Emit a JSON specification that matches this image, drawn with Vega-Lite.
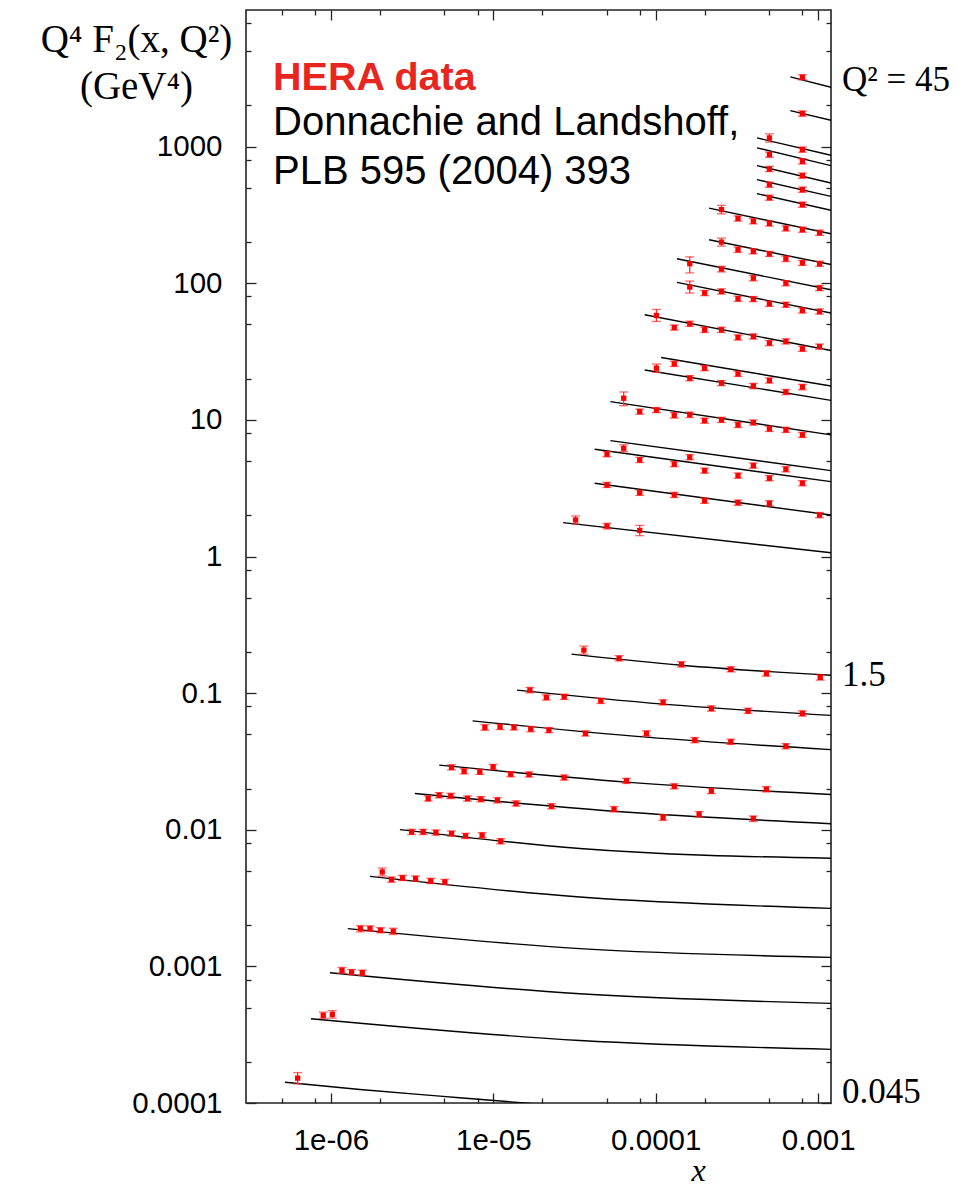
{
  "$schema": "https://vega.github.io/schema/vega-lite/v6.json",
  "width": 585,
  "height": 1093,
  "autosize": {"type": "none"},
  "padding": {"left": 246, "top": 10, "right": 135, "bottom": 84},
  "background": "white",
  "config": {
    "view": {"stroke": "#222222", "strokeWidth": 1.6},
    "axis": {"domain": false, "grid": false, "tickColor": "#222222", "tickWidth": 1.3, "labelFont": "Liberation Sans", "labelFontSize": 29.5, "labelColor": "black", "labelFlush": false, "labelOverlap": false}
  },
  "resolve": {"axis": {"x": "independent", "y": "independent"}},
  "datasets": {
    "curves": [
      {"c": "C1", "x": 0.000674, "y": 3241}, {"c": "C1", "x": 0.0012, "y": 2719},
      {"c": "C2", "x": 0.000674, "y": 1835}, {"c": "C2", "x": 0.0012, "y": 1558},
      {"c": "C3", "x": 0.00042, "y": 1158}, {"c": "C3", "x": 0.0012, "y": 864},
      {"c": "C4", "x": 0.00042, "y": 979}, {"c": "C4", "x": 0.0012, "y": 726},
      {"c": "C5", "x": 0.00042, "y": 726}, {"c": "C5", "x": 0.0012, "y": 542},
      {"c": "C6", "x": 0.00042, "y": 573}, {"c": "C6", "x": 0.0012, "y": 432},
      {"c": "C7", "x": 0.00042, "y": 453}, {"c": "C7", "x": 0.0012, "y": 342},
      {"c": "C8", "x": 0.000213, "y": 355}, {"c": "C8", "x": 0.0012, "y": 230},
      {"c": "C9", "x": 0.000213, "y": 208}, {"c": "C9", "x": 0.0012, "y": 137},
      {"c": "C10", "x": 0.000135, "y": 151}, {"c": "C10", "x": 0.0012, "y": 89.7},
      {"c": "C11", "x": 0.000135, "y": 101.4}, {"c": "C11", "x": 0.0012, "y": 60.5},
      {"c": "C12", "x": 0.0000855, "y": 58.8}, {"c": "C12", "x": 0.0012, "y": 32.2},
      {"c": "C13", "x": 0.000108, "y": 28.6}, {"c": "C13", "x": 0.0012, "y": 17.7},
      {"c": "C14", "x": 0.0000855, "y": 23.2}, {"c": "C14", "x": 0.0012, "y": 13.9},
      {"c": "C15", "x": 0.0000526, "y": 13.6}, {"c": "C15", "x": 0.0012, "y": 7.76},
      {"c": "C16", "x": 0.0000526, "y": 7.05}, {"c": "C16", "x": 0.0012, "y": 4.25},
      {"c": "C17", "x": 0.0000421, "y": 6.10}, {"c": "C17", "x": 0.0012, "y": 3.53},
      {"c": "C18", "x": 0.0000421, "y": 3.44}, {"c": "C18", "x": 0.0012, "y": 2.01},
      {"c": "C19", "x": 0.0000269, "y": 1.77}, {"c": "C19", "x": 0.0012, "y": 1.066},
      {"c": "L1", "x": 0.0000303, "y": 0.193}, {"c": "L1", "x": 0.000144, "y": 0.160}, {"c": "L1", "x": 0.0012, "y": 0.135},
      {"c": "L2", "x": 0.000014, "y": 0.1052}, {"c": "L2", "x": 0.000111, "y": 0.0831}, {"c": "L2", "x": 0.0012, "y": 0.0687},
      {"c": "L3", "x": 0.00000745, "y": 0.0627}, {"c": "L3", "x": 0.0000877, "y": 0.0476}, {"c": "L3", "x": 0.0012, "y": 0.0386},
      {"c": "L4", "x": 0.00000464, "y": 0.0297}, {"c": "L4", "x": 0.000066, "y": 0.0223}, {"c": "L4", "x": 0.0012, "y": 0.0181},
      {"c": "L5", "x": 0.00000329, "y": 0.0184}, {"c": "L5", "x": 0.0000554, "y": 0.01366}, {"c": "L5", "x": 0.0012, "y": 0.01107},
      {"c": "L6", "x": 0.00000266, "y": 0.01003}, {"c": "L6", "x": 0.0000341, "y": 0.00729}, {"c": "L6", "x": 0.0012, "y": 0.00618},
      {"c": "L7", "x": 0.00000174, "y": 0.00456}, {"c": "L7", "x": 0.0000341, "y": 0.00322}, {"c": "L7", "x": 0.0012, "y": 0.00266},
      {"c": "L8", "x": 0.00000127, "y": 0.00189}, {"c": "L8", "x": 0.0000341, "y": 0.001348}, {"c": "L8", "x": 0.0012, "y": 0.001164},
      {"c": "L9", "x": 0.000000986, "y": 0.000899}, {"c": "L9", "x": 0.0000341, "y": 0.000631}, {"c": "L9", "x": 0.0012, "y": 0.000536},
      {"c": "L10", "x": 0.000000753, "y": 0.000414}, {"c": "L10", "x": 0.0000341, "y": 0.000287}, {"c": "L10", "x": 0.0012, "y": 0.000247},
      {"c": "L11", "x": 0.000000521, "y": 0.000142}, {"c": "L11", "x": 0.00000151, "y": 0.0001256}, {"c": "L11", "x": 0.00000469, "y": 0.0001122}, {"c": "L11", "x": 0.0000161, "y": 0.0000997}, {"c": "L11", "x": 0.0012, "y": 0.000077}
    ],
    "pts": [
      {"c": "C1", "x": 0.0008, "y": 3219, "lo": 3080, "hi": 3360},
      {"c": "C2", "x": 0.0008, "y": 1745, "lo": 1670, "hi": 1825},
      {"c": "C3", "x": 0.000501, "y": 1158, "lo": 1080, "hi": 1240},
      {"c": "C3", "x": 0.0008, "y": 951, "lo": 910, "hi": 994},
      {"c": "C4", "x": 0.000501, "y": 874, "lo": 836, "hi": 913},
      {"c": "C4", "x": 0.0008, "y": 780, "lo": 746, "hi": 815},
      {"c": "C5", "x": 0.000501, "y": 686, "lo": 656, "hi": 717},
      {"c": "C5", "x": 0.0008, "y": 613, "lo": 587, "hi": 641},
      {"c": "C6", "x": 0.000501, "y": 527, "lo": 504, "hi": 551},
      {"c": "C6", "x": 0.0008, "y": 484, "lo": 463, "hi": 506},
      {"c": "C7", "x": 0.000501, "y": 423, "lo": 405, "hi": 442},
      {"c": "C7", "x": 0.0008, "y": 376, "lo": 360, "hi": 393},
      {"c": "C8", "x": 0.000254, "y": 346, "lo": 322, "hi": 372},
      {"c": "C8", "x": 0.000321, "y": 298, "lo": 285, "hi": 311},
      {"c": "C8", "x": 0.000399, "y": 284, "lo": 272, "hi": 297},
      {"c": "C8", "x": 0.000501, "y": 274, "lo": 262, "hi": 286},
      {"c": "C8", "x": 0.000633, "y": 252, "lo": 241, "hi": 263},
      {"c": "C8", "x": 0.0008, "y": 247, "lo": 236, "hi": 258},
      {"c": "C8", "x": 0.00102, "y": 234, "lo": 224, "hi": 245},
      {"c": "C9", "x": 0.000254, "y": 200, "lo": 187, "hi": 214},
      {"c": "C9", "x": 0.000321, "y": 176, "lo": 168, "hi": 184},
      {"c": "C9", "x": 0.000399, "y": 171, "lo": 164, "hi": 179},
      {"c": "C9", "x": 0.000501, "y": 164, "lo": 157, "hi": 171},
      {"c": "C9", "x": 0.000633, "y": 151, "lo": 144, "hi": 158},
      {"c": "C9", "x": 0.0008, "y": 141, "lo": 135, "hi": 147},
      {"c": "C9", "x": 0.00102, "y": 139, "lo": 133, "hi": 145},
      {"c": "C10", "x": 0.000162, "y": 139, "lo": 119, "hi": 156},
      {"c": "C10", "x": 0.000254, "y": 127, "lo": 121, "hi": 133},
      {"c": "C10", "x": 0.000399, "y": 109, "lo": 104, "hi": 114},
      {"c": "C10", "x": 0.000633, "y": 100, "lo": 95.7, "hi": 104.5},
      {"c": "C10", "x": 0.00102, "y": 92.2, "lo": 88.2, "hi": 96.3},
      {"c": "C11", "x": 0.000162, "y": 93.8, "lo": 84.8, "hi": 103.7},
      {"c": "C11", "x": 0.0002, "y": 84.8, "lo": 81.1, "hi": 88.6},
      {"c": "C11", "x": 0.000254, "y": 87.1, "lo": 83.3, "hi": 91.0},
      {"c": "C11", "x": 0.000321, "y": 77.0, "lo": 73.7, "hi": 80.5},
      {"c": "C11", "x": 0.000399, "y": 76.6, "lo": 73.3, "hi": 80.0},
      {"c": "C11", "x": 0.000501, "y": 70.8, "lo": 67.7, "hi": 74.0},
      {"c": "C11", "x": 0.000633, "y": 69.6, "lo": 66.6, "hi": 72.7},
      {"c": "C11", "x": 0.0008, "y": 63.2, "lo": 60.5, "hi": 66.0},
      {"c": "C11", "x": 0.00102, "y": 62.1, "lo": 59.4, "hi": 64.9},
      {"c": "C12", "x": 0.000101, "y": 58.1, "lo": 52.5, "hi": 64.3},
      {"c": "C12", "x": 0.00013, "y": 47.4, "lo": 45.4, "hi": 49.5},
      {"c": "C12", "x": 0.000162, "y": 50.5, "lo": 48.3, "hi": 52.8},
      {"c": "C12", "x": 0.0002, "y": 45.6, "lo": 43.6, "hi": 47.7},
      {"c": "C12", "x": 0.000254, "y": 45.6, "lo": 43.6, "hi": 47.7},
      {"c": "C12", "x": 0.000321, "y": 40.1, "lo": 38.4, "hi": 41.9},
      {"c": "C12", "x": 0.000399, "y": 40.8, "lo": 39.0, "hi": 42.6},
      {"c": "C12", "x": 0.000501, "y": 36.5, "lo": 34.9, "hi": 38.1},
      {"c": "C12", "x": 0.000633, "y": 37.5, "lo": 35.9, "hi": 39.2},
      {"c": "C12", "x": 0.0008, "y": 33.1, "lo": 31.7, "hi": 34.6},
      {"c": "C12", "x": 0.00102, "y": 34.4, "lo": 32.9, "hi": 35.9},
      {"c": "C13", "x": 0.00013, "y": 25.7, "lo": 24.6, "hi": 26.9},
      {"c": "C13", "x": 0.0002, "y": 23.9, "lo": 22.9, "hi": 25.0},
      {"c": "C13", "x": 0.000321, "y": 21.7, "lo": 20.8, "hi": 22.7},
      {"c": "C13", "x": 0.000501, "y": 19.4, "lo": 18.6, "hi": 20.3},
      {"c": "C13", "x": 0.0008, "y": 17.4, "lo": 16.6, "hi": 18.2},
      {"c": "C14", "x": 0.000101, "y": 23.9, "lo": 22.3, "hi": 25.6},
      {"c": "C14", "x": 0.000162, "y": 20.2, "lo": 19.3, "hi": 21.1},
      {"c": "C14", "x": 0.000254, "y": 18.6, "lo": 17.8, "hi": 19.4},
      {"c": "C14", "x": 0.000399, "y": 17.7, "lo": 16.9, "hi": 18.5},
      {"c": "C14", "x": 0.000633, "y": 16.0, "lo": 15.3, "hi": 16.7},
      {"c": "C15", "x": 0.0000635, "y": 14.4, "lo": 12.7, "hi": 16.0},
      {"c": "C15", "x": 0.0000797, "y": 11.5, "lo": 11.0, "hi": 12.0},
      {"c": "C15", "x": 0.000101, "y": 11.8, "lo": 11.3, "hi": 12.3},
      {"c": "C15", "x": 0.00013, "y": 10.8, "lo": 10.3, "hi": 11.3},
      {"c": "C15", "x": 0.000162, "y": 10.9, "lo": 10.4, "hi": 11.4},
      {"c": "C15", "x": 0.0002, "y": 9.88, "lo": 9.45, "hi": 10.3},
      {"c": "C15", "x": 0.000254, "y": 10.0, "lo": 9.57, "hi": 10.45},
      {"c": "C15", "x": 0.000321, "y": 9.19, "lo": 8.79, "hi": 9.60},
      {"c": "C15", "x": 0.000399, "y": 9.56, "lo": 9.15, "hi": 9.99},
      {"c": "C15", "x": 0.000501, "y": 8.59, "lo": 8.22, "hi": 8.98},
      {"c": "C15", "x": 0.000633, "y": 8.45, "lo": 8.09, "hi": 8.83},
      {"c": "C15", "x": 0.0008, "y": 7.76, "lo": 7.43, "hi": 8.11},
      {"c": "C16", "x": 0.0000635, "y": 6.20, "lo": 5.85, "hi": 6.57},
      {"c": "C16", "x": 0.000162, "y": 5.33, "lo": 5.10, "hi": 5.57},
      {"c": "C16", "x": 0.000399, "y": 4.63, "lo": 4.43, "hi": 4.84},
      {"c": "C16", "x": 0.000633, "y": 4.35, "lo": 4.16, "hi": 4.55},
      {"c": "C17", "x": 0.0000501, "y": 5.61, "lo": 5.37, "hi": 5.86},
      {"c": "C17", "x": 0.0000797, "y": 5.09, "lo": 4.87, "hi": 5.32},
      {"c": "C17", "x": 0.00013, "y": 4.74, "lo": 4.54, "hi": 4.95},
      {"c": "C17", "x": 0.0002, "y": 4.25, "lo": 4.07, "hi": 4.44},
      {"c": "C17", "x": 0.000321, "y": 3.91, "lo": 3.74, "hi": 4.09},
      {"c": "C17", "x": 0.000501, "y": 3.74, "lo": 3.58, "hi": 3.91},
      {"c": "C17", "x": 0.0008, "y": 3.44, "lo": 3.29, "hi": 3.59},
      {"c": "C18", "x": 0.0000501, "y": 3.34, "lo": 3.20, "hi": 3.49},
      {"c": "C18", "x": 0.0000797, "y": 2.93, "lo": 2.80, "hi": 3.06},
      {"c": "C18", "x": 0.00013, "y": 2.82, "lo": 2.70, "hi": 2.95},
      {"c": "C18", "x": 0.0002, "y": 2.56, "lo": 2.45, "hi": 2.68},
      {"c": "C18", "x": 0.000321, "y": 2.48, "lo": 2.37, "hi": 2.59},
      {"c": "C18", "x": 0.000501, "y": 2.45, "lo": 2.34, "hi": 2.56},
      {"c": "C18", "x": 0.00102, "y": 2.01, "lo": 1.92, "hi": 2.10},
      {"c": "C19", "x": 0.0000321, "y": 1.85, "lo": 1.73, "hi": 1.98},
      {"c": "C19", "x": 0.0000501, "y": 1.67, "lo": 1.59, "hi": 1.75},
      {"c": "C19", "x": 0.0000797, "y": 1.55, "lo": 1.42, "hi": 1.69},
      {"c": "L1", "x": 0.0000361, "y": 0.2065, "lo": 0.193, "hi": 0.221},
      {"c": "L1", "x": 0.0000595, "y": 0.1795, "lo": 0.172, "hi": 0.188},
      {"c": "L1", "x": 0.000144, "y": 0.1623, "lo": 0.155, "hi": 0.170},
      {"c": "L1", "x": 0.00029, "y": 0.1492, "lo": 0.143, "hi": 0.156},
      {"c": "L1", "x": 0.00048, "y": 0.1394, "lo": 0.133, "hi": 0.146},
      {"c": "L1", "x": 0.00103, "y": 0.1303, "lo": 0.1245, "hi": 0.136},
      {"c": "L2", "x": 0.0000168, "y": 0.1052, "lo": 0.1005, "hi": 0.110},
      {"c": "L2", "x": 0.0000212, "y": 0.093, "lo": 0.0889, "hi": 0.0972},
      {"c": "L2", "x": 0.0000273, "y": 0.094, "lo": 0.0899, "hi": 0.0982},
      {"c": "L2", "x": 0.0000459, "y": 0.0878, "lo": 0.084, "hi": 0.0918},
      {"c": "L2", "x": 0.000111, "y": 0.0855, "lo": 0.0818, "hi": 0.0894},
      {"c": "L2", "x": 0.00022, "y": 0.0772, "lo": 0.0738, "hi": 0.0807},
      {"c": "L2", "x": 0.00037, "y": 0.0742, "lo": 0.071, "hi": 0.0776},
      {"c": "L2", "x": 0.0008, "y": 0.071, "lo": 0.0679, "hi": 0.0742},
      {"c": "L3", "x": 0.00000887, "y": 0.0561, "lo": 0.0534, "hi": 0.0589},
      {"c": "L3", "x": 0.000011, "y": 0.0566, "lo": 0.0541, "hi": 0.0592},
      {"c": "L3", "x": 0.0000134, "y": 0.0561, "lo": 0.0537, "hi": 0.0586},
      {"c": "L3", "x": 0.000017, "y": 0.0545, "lo": 0.0521, "hi": 0.057},
      {"c": "L3", "x": 0.000022, "y": 0.0536, "lo": 0.0513, "hi": 0.056},
      {"c": "L3", "x": 0.0000369, "y": 0.0507, "lo": 0.0485, "hi": 0.053},
      {"c": "L3", "x": 0.0000877, "y": 0.0507, "lo": 0.0485, "hi": 0.053},
      {"c": "L3", "x": 0.000174, "y": 0.0453, "lo": 0.0433, "hi": 0.0473},
      {"c": "L3", "x": 0.00029, "y": 0.044, "lo": 0.0421, "hi": 0.046},
      {"c": "L3", "x": 0.000633, "y": 0.0409, "lo": 0.0391, "hi": 0.0427},
      {"c": "L4", "x": 0.00000553, "y": 0.0286, "lo": 0.0274, "hi": 0.0299},
      {"c": "L4", "x": 0.00000661, "y": 0.0268, "lo": 0.0256, "hi": 0.028},
      {"c": "L4", "x": 0.00000826, "y": 0.0265, "lo": 0.0254, "hi": 0.0277},
      {"c": "L4", "x": 0.00000997, "y": 0.0288, "lo": 0.0276, "hi": 0.0301},
      {"c": "L4", "x": 0.0000128, "y": 0.0255, "lo": 0.0244, "hi": 0.0266},
      {"c": "L4", "x": 0.0000166, "y": 0.0254, "lo": 0.0243, "hi": 0.0265},
      {"c": "L4", "x": 0.0000273, "y": 0.0241, "lo": 0.0231, "hi": 0.0252},
      {"c": "L4", "x": 0.000066, "y": 0.0228, "lo": 0.0218, "hi": 0.0238},
      {"c": "L4", "x": 0.00013, "y": 0.0208, "lo": 0.0199, "hi": 0.0217},
      {"c": "L4", "x": 0.00022, "y": 0.0192, "lo": 0.0184, "hi": 0.0201},
      {"c": "L4", "x": 0.00048, "y": 0.0198, "lo": 0.0189, "hi": 0.0207},
      {"c": "L5", "x": 0.00000397, "y": 0.01693, "lo": 0.0162, "hi": 0.0177},
      {"c": "L5", "x": 0.00000464, "y": 0.01789, "lo": 0.0171, "hi": 0.0187},
      {"c": "L5", "x": 0.00000547, "y": 0.01769, "lo": 0.0169, "hi": 0.0185},
      {"c": "L5", "x": 0.00000694, "y": 0.01693, "lo": 0.0162, "hi": 0.0177},
      {"c": "L5", "x": 0.00000838, "y": 0.01673, "lo": 0.016, "hi": 0.0175},
      {"c": "L5", "x": 0.0000106, "y": 0.01645, "lo": 0.0157, "hi": 0.0172},
      {"c": "L5", "x": 0.0000138, "y": 0.01555, "lo": 0.0149, "hi": 0.0163},
      {"c": "L5", "x": 0.0000228, "y": 0.01487, "lo": 0.0142, "hi": 0.0155},
      {"c": "L5", "x": 0.0000554, "y": 0.01413, "lo": 0.0135, "hi": 0.0148},
      {"c": "L5", "x": 0.000111, "y": 0.01229, "lo": 0.0117, "hi": 0.0129},
      {"c": "L5", "x": 0.000185, "y": 0.01299, "lo": 0.0124, "hi": 0.0136},
      {"c": "L5", "x": 0.000399, "y": 0.01208, "lo": 0.0115, "hi": 0.0126},
      {"c": "L6", "x": 0.00000314, "y": 0.00964, "lo": 0.00922, "hi": 0.01008},
      {"c": "L6", "x": 0.0000037, "y": 0.00964, "lo": 0.00922, "hi": 0.01008},
      {"c": "L6", "x": 0.00000443, "y": 0.00954, "lo": 0.00913, "hi": 0.00997},
      {"c": "L6", "x": 0.00000553, "y": 0.00938, "lo": 0.00897, "hi": 0.0098},
      {"c": "L6", "x": 0.00000675, "y": 0.00901, "lo": 0.00862, "hi": 0.00942},
      {"c": "L6", "x": 0.00000853, "y": 0.00912, "lo": 0.00872, "hi": 0.00953},
      {"c": "L6", "x": 0.0000111, "y": 0.00824, "lo": 0.00788, "hi": 0.00861},
      {"c": "L7", "x": 0.00000207, "y": 0.00491, "lo": 0.00459, "hi": 0.00525},
      {"c": "L7", "x": 0.00000236, "y": 0.00432, "lo": 0.00413, "hi": 0.00451},
      {"c": "L7", "x": 0.00000276, "y": 0.00444, "lo": 0.00425, "hi": 0.00464},
      {"c": "L7", "x": 0.00000332, "y": 0.00439, "lo": 0.0042, "hi": 0.00459},
      {"c": "L7", "x": 0.00000412, "y": 0.00422, "lo": 0.00404, "hi": 0.00441},
      {"c": "L7", "x": 0.00000503, "y": 0.00415, "lo": 0.00397, "hi": 0.00434},
      {"c": "L8", "x": 0.00000152, "y": 0.00189, "lo": 0.00179, "hi": 0.00199},
      {"c": "L8", "x": 0.00000174, "y": 0.00189, "lo": 0.00181, "hi": 0.00198},
      {"c": "L8", "x": 0.00000202, "y": 0.001835, "lo": 0.00176, "hi": 0.00192},
      {"c": "L8", "x": 0.00000242, "y": 0.001804, "lo": 0.00171, "hi": 0.0019},
      {"c": "L9", "x": 0.00000117, "y": 0.000935, "lo": 0.00089, "hi": 0.000982},
      {"c": "L9", "x": 0.00000134, "y": 0.000908, "lo": 0.000869, "hi": 0.000949},
      {"c": "L9", "x": 0.00000156, "y": 0.000899, "lo": 0.00086, "hi": 0.00094},
      {"c": "L10", "x": 0.000000897, "y": 0.000438, "lo": 0.000415, "hi": 0.000462},
      {"c": "L10", "x": 0.00000102, "y": 0.000445, "lo": 0.000418, "hi": 0.000474},
      {"c": "L11", "x": 0.000000624, "y": 0.000152, "lo": 0.000138, "hi": 0.000167}
    ]
  },
  "layer": [
    {
      "data": {"name": "curves"},
      "mark": {"type": "line", "color": "black", "strokeWidth": 1.4, "interpolate": "monotone", "clip": true},
      "encoding": {
        "x": {"field": "x", "type": "quantitative", "scale": {"type": "log", "domain": [3e-7, 0.0012], "nice": false},
          "axis": {"orient": "bottom", "values": [0.000001, 0.00001, 0.0001, 0.001], "tickSize": -10, "labelPadding": 33,
            "labelExpr": "datum.value < 5e-6 ? '1e-06' : datum.value < 5e-5 ? '1e-05' : datum.value < 5e-4 ? '0.0001' : '0.001'",
            "title": "x", "titleFont": "Liberation Serif", "titleFontStyle": "italic", "titleFontWeight": "normal", "titleFontSize": 32, "titleColor": "black",
            "titleX": 452, "titleY": 77, "titleAlign": "center", "titleBaseline": "alphabetic"}},
        "y": {"field": "y", "type": "quantitative", "scale": {"type": "log", "domain": [0.0001, 10000], "nice": false},
          "axis": {"orient": "left", "values": [0.0001, 0.001, 0.01, 0.1, 1, 10, 100, 1000], "tickSize": -10, "labelPadding": 34,
            "labelExpr": "datum.value < 5e-4 ? '0.0001' : datum.value < 5e-3 ? '0.001' : datum.value < 0.05 ? '0.01' : datum.value < 0.5 ? '0.1' : datum.value < 5 ? '1' : datum.value < 50 ? '10' : datum.value < 500 ? '100' : '1000'",
            "title": ["Q⁴  F₂(x, Q²)", "(GeV⁴)"], "titleFont": "Liberation Serif", "titleFontWeight": "normal", "titleFontSize": 39, "titleColor": "black",
            "titleAngle": 0, "titleAlign": "center", "titleBaseline": "alphabetic", "titleX": -110, "titleY": 41, "titleLineHeight": 47}},
        "detail": {"field": "c", "type": "nominal"}
      }
    },
    {
      "data": {"name": "pts"},
      "mark": {"type": "rule", "color": "#ff2a2a", "strokeWidth": 1.3},
      "encoding": {
        "x": {"field": "x", "type": "quantitative", "scale": {"type": "log", "domain": [3e-7, 0.0012], "nice": false},
          "axis": {"orient": "bottom", "values": [5e-7, 8e-7, 2e-6, 5e-6, 8e-6, 2e-5, 5e-5, 8e-5, 2e-4, 5e-4, 8e-4], "tickSize": -5, "labels": false, "title": null}},
        "y": {"field": "lo", "type": "quantitative", "scale": {"type": "log", "domain": [0.0001, 10000], "nice": false},
          "axis": {"orient": "left", "values": [2e-4, 5e-4, 8e-4, 2e-3, 5e-3, 8e-3, 0.02, 0.05, 0.08, 0.2, 0.5, 0.8, 2, 5, 8, 20, 50, 80, 200, 500, 800, 2000, 5000, 8000], "tickSize": -5, "labels": false, "title": null}},
        "y2": {"field": "hi"}
      }
    },
    {
      "data": {"name": "pts"},
      "mark": {"type": "tick", "orient": "horizontal", "size": 9, "thickness": 1.3, "color": "#ff2a2a"},
      "encoding": {
        "x": {"field": "x", "type": "quantitative", "scale": {"type": "log", "domain": [3e-7, 0.0012], "nice": false},
          "axis": {"orient": "top", "values": [0.000001, 0.00001, 0.0001, 0.001], "tickSize": -10, "labels": false, "title": null}},
        "y": {"field": "lo", "type": "quantitative", "scale": {"type": "log", "domain": [0.0001, 10000], "nice": false},
          "axis": {"orient": "right", "values": [0.0001, 0.001, 0.01, 0.1, 1, 10, 100, 1000], "tickSize": -10, "labels": false, "title": null}}
      }
    },
    {
      "data": {"name": "pts"},
      "mark": {"type": "tick", "orient": "horizontal", "size": 9, "thickness": 1.3, "color": "#ff2a2a"},
      "encoding": {
        "x": {"field": "x", "type": "quantitative", "scale": {"type": "log", "domain": [3e-7, 0.0012], "nice": false},
          "axis": {"orient": "top", "values": [5e-7, 8e-7, 2e-6, 5e-6, 8e-6, 2e-5, 5e-5, 8e-5, 2e-4, 5e-4, 8e-4], "tickSize": -5, "labels": false, "title": null}},
        "y": {"field": "hi", "type": "quantitative", "scale": {"type": "log", "domain": [0.0001, 10000], "nice": false},
          "axis": {"orient": "right", "values": [2e-4, 5e-4, 8e-4, 2e-3, 5e-3, 8e-3, 0.02, 0.05, 0.08, 0.2, 0.5, 0.8, 2, 5, 8, 20, 50, 80, 200, 500, 800, 2000, 5000, 8000], "tickSize": -5, "labels": false, "title": null}}
      }
    },
    {
      "data": {"name": "pts"},
      "mark": {"type": "square", "size": 28, "color": "#ff0000", "opacity": 1},
      "encoding": {
        "x": {"field": "x", "type": "quantitative", "scale": {"type": "log", "domain": [3e-7, 0.0012], "nice": false}, "axis": null},
        "y": {"field": "y", "type": "quantitative", "scale": {"type": "log", "domain": [0.0001, 10000], "nice": false}, "axis": null}
      }
    },
    {
      "data": {"values": [{"x": 0.00000044, "y": 2616, "t": "HERA data"}]},
      "mark": {"type": "text", "align": "left", "baseline": "alphabetic", "font": "Liberation Sans", "fontSize": 39.5, "fontWeight": "bold", "color": "#e8251f"},
      "encoding": {
        "x": {"field": "x", "type": "quantitative", "scale": {"type": "log", "domain": [3e-7, 0.0012], "nice": false}, "axis": null},
        "y": {"field": "y", "type": "quantitative", "scale": {"type": "log", "domain": [0.0001, 10000], "nice": false}, "axis": null},
        "text": {"field": "t"}
      }
    },
    {
      "data": {"values": [{"x": 0.00000044, "y": 1224, "t": "Donnachie and Landshoff,"}, {"x": 0.00000044, "y": 536, "t": "PLB 595 (2004) 393"}]},
      "mark": {"type": "text", "align": "left", "baseline": "alphabetic", "font": "Liberation Sans", "fontSize": 40, "color": "black"},
      "encoding": {
        "x": {"field": "x", "type": "quantitative", "scale": {"type": "log", "domain": [3e-7, 0.0012], "nice": false}, "axis": null},
        "y": {"field": "y", "type": "quantitative", "scale": {"type": "log", "domain": [0.0001, 10000], "nice": false}, "axis": null},
        "text": {"field": "t"}
      }
    },
    {
      "data": {"values": [{"x": 0.0012, "y": 3097, "t": "Q² = 45"}, {"x": 0.0012, "y": 0.135, "t": "1.5"}, {"x": 0.0012, "y": 0.0001194, "t": "0.045"}]},
      "mark": {"type": "text", "align": "left", "baseline": "middle", "dx": 11, "font": "Liberation Serif", "fontSize": 35, "color": "black"},
      "encoding": {
        "x": {"field": "x", "type": "quantitative", "scale": {"type": "log", "domain": [3e-7, 0.0012], "nice": false}, "axis": null},
        "y": {"field": "y", "type": "quantitative", "scale": {"type": "log", "domain": [0.0001, 10000], "nice": false}, "axis": null},
        "text": {"field": "t"}
      }
    }
  ]
}
